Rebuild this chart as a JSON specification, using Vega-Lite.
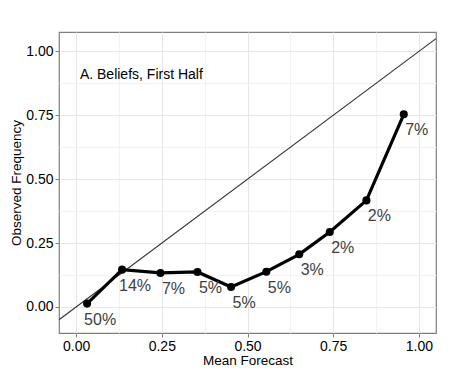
{
  "$schema": "https://vega.github.io/schema/vega-lite/v6.json",
  "autosize": "none",
  "width": 377,
  "height": 301,
  "padding": {"left": 59, "top": 32, "right": 14, "bottom": 42},
  "background": "white",
  "config": {
    "font": "Liberation Sans",
    "view": {"stroke": "#7f7f7f", "strokeWidth": 1.2},
    "axis": {
      "domain": false,
      "labelFont": "Liberation Sans",
      "titleFont": "Liberation Sans",
      "labelFontSize": 14,
      "titleFontSize": 13.5,
      "titleFontWeight": "normal",
      "labelColor": "black",
      "titleColor": "black",
      "tickColor": "#7f7f7f",
      "tickSize": 4,
      "labelPadding": 2,
      "gridColor": {"condition": {"test": "abs(datum.value*4 - round(datum.value*4)) > 0.001", "value": "#f2f2f2"}, "value": "#e6e6e6"},
      "tickOpacity": {"condition": {"test": "abs(datum.value*4 - round(datum.value*4)) > 0.001", "value": 0}, "value": 1}
    }
  },
  "datasets": {
    "cal": [
      {"forecast": 0.032, "observed": 0.013, "share": "50%"},
      {"forecast": 0.134, "observed": 0.146, "share": "14%"},
      {"forecast": 0.246, "observed": 0.133, "share": "7%"},
      {"forecast": 0.354, "observed": 0.137, "share": "5%"},
      {"forecast": 0.452, "observed": 0.078, "share": "5%"},
      {"forecast": 0.555, "observed": 0.138, "share": "5%"},
      {"forecast": 0.651, "observed": 0.206, "share": "3%"},
      {"forecast": 0.740, "observed": 0.293, "share": "2%"},
      {"forecast": 0.847, "observed": 0.417, "share": "2%"},
      {"forecast": 0.956, "observed": 0.754, "share": "7%"}
    ],
    "diag": [
      {"forecast": -0.05, "observed": -0.05},
      {"forecast": 1.05, "observed": 1.05}
    ],
    "note": [
      {"forecast": 0.011, "observed": 0.909, "text": "A. Beliefs, First Half"}
    ]
  },
  "encoding": {
    "x": {
      "field": "forecast", "type": "quantitative",
      "scale": {"domain": [-0.05, 1.05], "nice": false, "zero": false},
      "axis": {
        "title": "Mean Forecast",
        "values": [0, 0.125, 0.25, 0.375, 0.5, 0.625, 0.75, 0.875, 1],
        "labelExpr": "abs(datum.value*4 - round(datum.value*4)) > 0.001 ? '' : format(datum.value, '.2f')",
        "titlePadding": 0
      }
    },
    "y": {
      "field": "observed", "type": "quantitative",
      "scale": {"domain": [-0.102, 1.076], "nice": false, "zero": false},
      "axis": {
        "title": "Observed Frequency",
        "values": [0, 0.125, 0.25, 0.375, 0.5, 0.625, 0.75, 0.875, 1],
        "labelExpr": "abs(datum.value*4 - round(datum.value*4)) > 0.001 ? '' : format(datum.value, '.2f')",
        "titlePadding": 2
      }
    }
  },
  "layer": [
    {
      "data": {"name": "diag"},
      "mark": {"type": "line", "color": "#333333", "strokeWidth": 1.1, "clip": true}
    },
    {
      "data": {"name": "cal"},
      "mark": {"type": "line", "color": "black", "strokeWidth": 3.2}
    },
    {
      "data": {"name": "cal"},
      "mark": {"type": "circle", "color": "black", "opacity": 1, "size": 65}
    },
    {
      "data": {"name": "cal"},
      "mark": {"type": "text", "dx": 13, "dy": 16, "align": "center", "baseline": "middle", "fontSize": 16, "color": "#404040", "font": "Liberation Sans"},
      "encoding": {"text": {"field": "share", "type": "nominal"}}
    },
    {
      "data": {"name": "note"},
      "mark": {"type": "text", "align": "left", "baseline": "middle", "fontSize": 14, "color": "black", "font": "Liberation Sans"},
      "encoding": {"text": {"field": "text", "type": "nominal"}}
    }
  ]
}
